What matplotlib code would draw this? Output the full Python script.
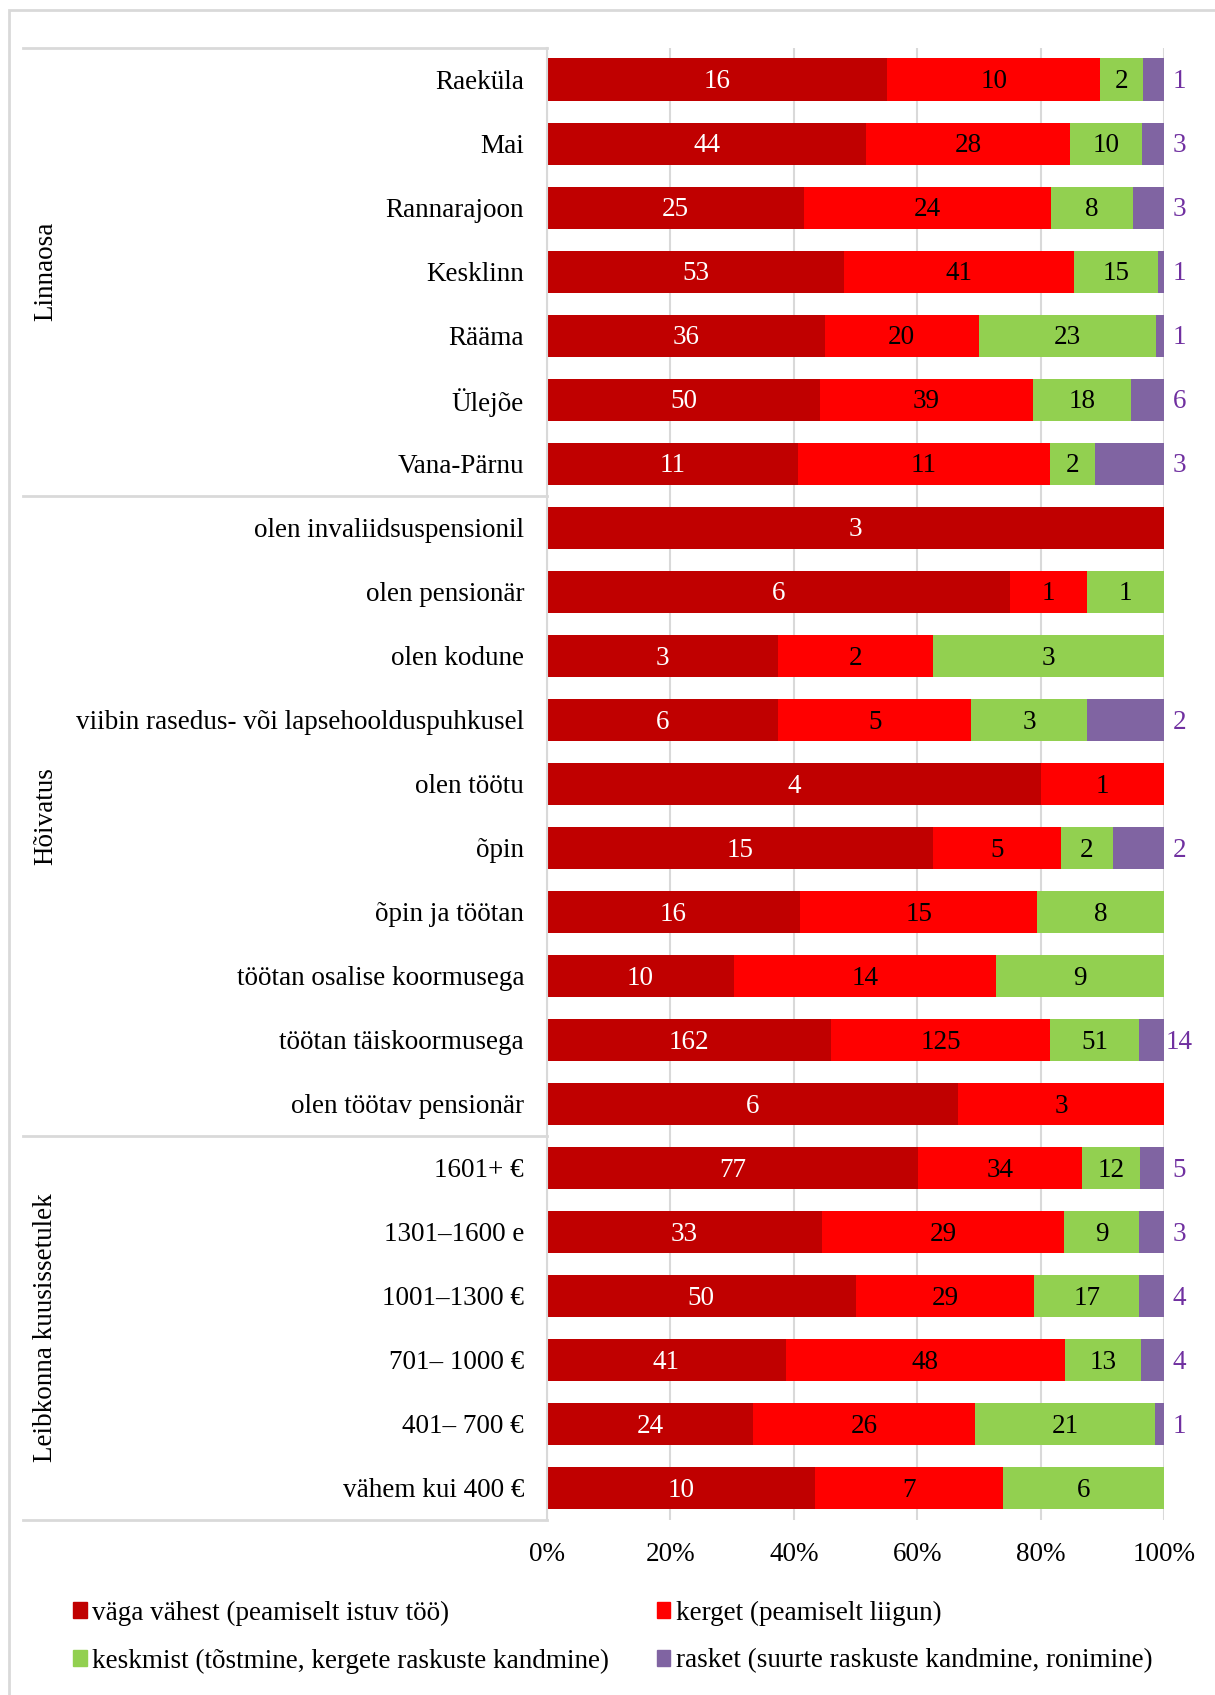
import matplotlib.pyplot as plt
import matplotlib.transforms as mtransforms
from matplotlib.patches import Patch, Rectangle
import numpy as np

plt.rcParams['font.family'] = ['Liberation Serif', 'DejaVu Serif']

categories = ['Raeküla', 'Mai', 'Rannarajoon', 'Kesklinn', 'Rääma', 'Ülejõe', 'Vana-Pärnu',
              'olen invaliidsuspensionil', 'olen pensionär', 'olen kodune',
              'viibin rasedus- või lapsehoolduspuhkusel', 'olen töötu', 'õpin',
              'õpin ja töötan', 'töötan osalise koormusega', 'töötan täiskoormusega',
              'olen töötav pensionär',
              '1601+ €', '1301–1600 e', '1001–1300 €', '701– 1000 €', '401– 700 €', 'vähem kui 400 €']

vaga_vahest = [16, 44, 25, 53, 36, 50, 11, 3, 6, 3, 6, 4, 15, 16, 10, 162, 6, 77, 33, 50, 41, 24, 10]
kerget      = [10, 28, 24, 41, 20, 39, 11, 0, 1, 2, 5, 1, 5, 15, 14, 125, 3, 34, 29, 29, 48, 26, 7]
keskmist    = [2, 10, 8, 15, 23, 18, 2, 0, 1, 3, 3, 0, 2, 8, 9, 51, 0, 12, 9, 17, 13, 21, 6]
rasket      = [1, 3, 3, 1, 1, 6, 3, 0, 0, 0, 2, 0, 2, 0, 0, 14, 0, 5, 3, 4, 4, 1, 0]

groups = [('Linnaosa', 0, 6), ('Hõivatus', 7, 16), ('Leibkonna kuusissetulek', 17, 22)]

series = [('väga vähest (peamiselt istuv töö)', vaga_vahest, '#C00000', 'white'),
          ('kerget (peamiselt liigun)', kerget, '#FF0000', 'black'),
          ('keskmist (tõstmine, kergete raskuste kandmine)', keskmist, '#92D050', 'black'),
          ('rasket (suurte raskuste kandmine, ronimine)', rasket, '#8064A2', '#7030A0')]

fs = 19.5
fig = plt.figure(figsize=(12.15, 16.95), dpi=100)
ax = fig.add_axes([547 / 1215, 1 - 1520 / 1695, 617 / 1215, (1520 - 47.6) / 1695])

# outer chart border (only top/left visible in the crop)
fig.patches.append(Rectangle((9 / 1215, -0.1), 1.2, 1 - 10 / 1695 + 0.1, transform=fig.transFigure,
                             fill=False, edgecolor='#D9D9D9', linewidth=2, zorder=0))

y = np.arange(len(categories))
totals = np.array(vaga_vahest) + np.array(kerget) + np.array(keskmist) + np.array(rasket)
left = np.zeros(len(categories))
dy = 0.035  # nudge numbers down a touch
for name, vals, color, tcolor in series:
    vals = np.array(vals, dtype=float)
    w = vals / totals
    ax.barh(y, w, left=left, height=0.66, color=color, label=name, zorder=2)
    for i in range(len(categories)):
        if vals[i] == 0:
            continue
        if name.startswith('rasket'):
            ax.text(1.025, y[i] + dy, f'{int(vals[i])}', ha='center', va='center', color=tcolor,
                    fontsize=fs, clip_on=False)
        else:
            ax.text(left[i] + w[i] / 2, y[i] + dy, f'{int(vals[i])}', ha='center', va='center',
                    color=tcolor, fontsize=fs)
    left += w

ax.set_xlim(0, 1)
ax.set_ylim(len(categories) - 0.5, -0.5)
ax.set_xticks(np.arange(0, 1.01, 0.2))
ax.set_xticklabels([f'{int(t * 100)}%' for t in np.arange(0, 1.01, 0.2)], fontsize=fs)
ax.set_yticks(y)
ax.set_yticklabels(categories, fontsize=fs)
ax.tick_params(axis='x', length=0, pad=16)
ax.tick_params(axis='y', length=0, pad=16.5)
ax.grid(axis='x', color='#D9D9D9', linewidth=1.5, zorder=0)
for s in ['top', 'right', 'bottom']:
    ax.spines[s].set_visible(False)
ax.spines['left'].set_color('#D9D9D9')
ax.spines['left'].set_linewidth(1.5)

# group separators and labels on the left
trans = mtransforms.blended_transform_factory(ax.transAxes, ax.transData)
x0 = (23 - 547) / 617
for b in [-0.5, 6.5, 16.5, 22.5]:
    ax.plot([x0, 0], [b, b], color='#D9D9D9', linewidth=2, transform=trans, clip_on=False)
for label, a, b in groups:
    ax.text((46 - 547) / 617, (a + b) / 2, label, rotation=90, ha='center', va='center',
            fontsize=fs, transform=trans)

handles = [Patch(color=s[2]) for s in series]
order = [0, 2, 1, 3]
fig.legend([handles[i] for i in order], [series[i][0] for i in order],
           loc='upper left', bbox_to_anchor=(49 / 1215, 1 - 1576 / 1695), ncol=2, frameon=False,
           fontsize=fs, handlelength=0.5, handleheight=0.5, handletextpad=0.2,
           columnspacing=1.75, labelspacing=0.85)

fig.savefig('out.png', dpi=100)
